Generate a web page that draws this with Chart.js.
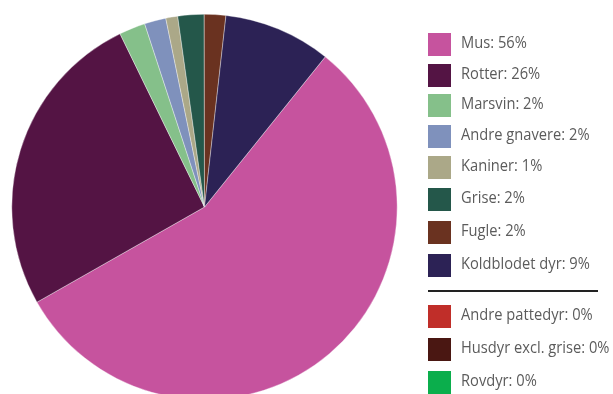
<!DOCTYPE html>
<html>
<head>
<meta charset="utf-8">
<script src="https://cdn.jsdelivr.net/npm/chart.js@4"></script>
<style>
  html, body { margin: 0; padding: 0; background: #fff; overflow: hidden; width: 613px; height: 394px; }
  #wrap { position: absolute; left: 0; top: 0; width: 409px; height: 414px; }
  #legend { position: absolute; left: 0; top: 0; width: 613px; height: 394px; font-family: "Open Sans", sans-serif; }
  .box { position: absolute; left: 428px; width: 23px; height: 23px; }
  .lbl { position: absolute; left: 461px; font-size: 16.5px; line-height: 20px; color: #5b5b5b; white-space: nowrap; transform: scaleX(0.89); transform-origin: 0 50%; }
  .divider { position: absolute; left: 428px; width: 170px; height: 1.5px; background: #222; top: 290px; }
</style>
</head>
<body>
<div id="wrap"><canvas id="c"></canvas></div>
<div id="legend"></div>
<script>
// Data
const categories = ["Mus", "Rotter", "Marsvin", "Andre gnavere", "Kaniner", "Grise", "Fugle", "Koldblodet dyr", "Andre pattedyr", "Husdyr excl. grise", "Rovdyr"];
const values = [56, 26, 2.2, 1.8, 1, 2.2, 1.8, 9, 0, 0, 0];
const labelPercents = [56, 26, 2, 2, 1, 2, 2, 9, 0, 0, 0];
const colors = ["#C6539E", "#541444", "#85C08A", "#7F91BC", "#ABA888", "#24574A", "#6A3220", "#2C2255", "#C02E29", "#4A1712", "#0BAE4C"];

// Layout (legend row tops, divider after index 7)
const rowTops = [33, 63.5, 93.5, 124.5, 156, 188, 221, 254, 305, 338, 371];

new Chart(document.getElementById('c'), {
  type: 'pie',
  data: {
    labels: categories,
    datasets: [{
      data: values,
      backgroundColor: colors,
      borderColor: 'rgba(255,255,255,0.6)',
      borderWidth: 0.6
    }]
  },
  options: {
    responsive: true,
    maintainAspectRatio: false,
    animation: false,
    rotation: 38.8,
    layout: { padding: { left: 11, right: 11, top: 14, bottom: 14 } },
    plugins: { legend: { display: false }, tooltip: { enabled: false } }
  }
});

const legend = document.getElementById('legend');
categories.forEach((name, i) => {
  const b = document.createElement('div');
  b.className = 'box';
  b.style.top = rowTops[i] + 'px';
  b.style.background = colors[i];
  legend.appendChild(b);
  const t = document.createElement('div');
  t.className = 'lbl';
  t.style.top = (rowTops[i] - 1) + 'px';
  t.textContent = name + ': ' + labelPercents[i] + '%';
  legend.appendChild(t);
});
const d = document.createElement('div');
d.className = 'divider';
legend.appendChild(d);
</script>
</body>
</html>
